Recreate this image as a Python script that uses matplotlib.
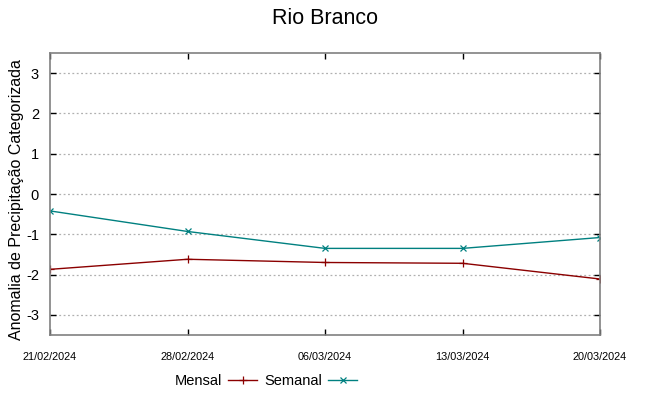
import matplotlib
matplotlib.use("Agg")
import matplotlib.pyplot as plt

plt.rcParams['font.family'] = ['Liberation Sans', 'DejaVu Sans']

dates = ["21/02/2024", "28/02/2024", "06/03/2024", "13/03/2024", "20/03/2024"]
mensal = [-1.87, -1.62, -1.70, -1.72, -2.11]
semanal = [-0.42, -0.93, -1.35, -1.35, -1.08]
yticks = [-3, -2, -1, 0, 1, 2, 3]

fig = plt.figure(figsize=(6.49, 3.96), dpi=100)
ax = fig.add_axes([50/649, 61/396, 550/649, 282/396])
x = list(range(len(dates)))
ax.plot(x, mensal, color='#8b0000', lw=1.0, marker='+', ms=6, mew=0.9, label='Mensal')
ax.plot(x, semanal, color='#008080', lw=1.0, marker='x', ms=4.5, mew=0.9, label='Semanal')

ax.set_xlim(0, 4)
ax.set_ylim(-3.5, 3.5)
ax.set_xticks(x)
ax.set_xticklabels(dates, fontsize=7.8)
ax.set_yticks(yticks)
ax.set_yticklabels([str(v) for v in yticks], fontsize=10.5)
ax.tick_params(direction='in', length=4, width=1, top=True, right=True, color='black', pad=8)
ax.tick_params(axis='x', pad=12)
for s in ax.spines.values():
    s.set_color('#808080')
    s.set_linewidth(1.2)
ax.grid(True, axis='y', linestyle=(0, (1.5, 2)), color='#b0b0b0', lw=0.9)
ax.set_ylabel('Anomalia de Precipitação Categorizada', fontsize=11.5)
ax.yaxis.set_label_coords(-0.047, 0.48)
fig.suptitle('Rio Branco', fontsize=15.5, y=0.98)
fig.legend(loc='center', bbox_to_anchor=(266/649, 1 - 381/396), ncol=2, frameon=False,
           markerfirst=False, prop={'size': 10.5}, handlelength=2.0, columnspacing=0.5,
           handletextpad=0.4, borderpad=0.2)
fig.savefig('out.png', dpi=100)
